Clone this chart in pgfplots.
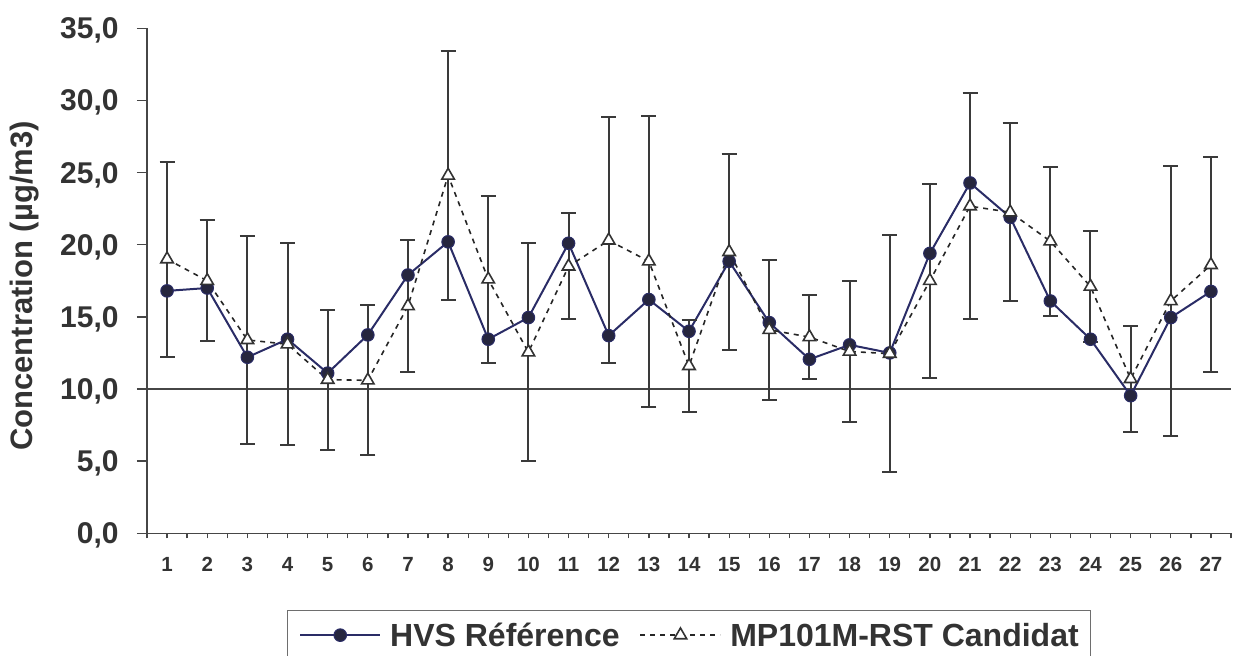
\documentclass[border=0pt]{standalone}
\usepackage{fontspec}
\setmainfont{Liberation Sans}
\usepackage{pgfplots}
\pgfplotsset{compat=1.18}
\usepackage{pgfplotstable}

\definecolor{refline}{RGB}{42,44,102}
\definecolor{refmark}{RGB}{38,38,62}
\definecolor{txt}{RGB}{51,51,51}
\definecolor{axisgray}{RGB}{70,70,70}
\definecolor{barcol}{RGB}{58,58,58}
\definecolor{boxgray}{RGB}{110,110,110}

% day, HVS reference, MP101M-RST candidate, half-width of the candidate interval
\pgfplotstableread{
day hvs  mp    err
1   16.8  19.0  6.75
2   17.0  17.5  4.2
3   12.2  13.4  7.2
4   13.45 13.1  7.0
5   11.1  10.65 4.85
6   13.75 10.6  5.2
7   17.9  15.75 4.55
8   20.2  24.8  8.6
9   13.45 17.6  5.8
10  14.95 12.55 7.56
11  20.1  18.5  3.68
12  13.7  20.3  8.53
13  16.2  18.85 10.1
14  14.0  11.6  3.18
15  18.85 19.5  6.8
16  14.6  14.1  4.86
17  12.06 13.6  2.9
18  13.06 12.6  4.86
19  12.5  12.45 8.2
20  19.4  17.5  6.73
21  24.28 22.67 7.85
22  21.9  22.25 6.17
23  16.1  20.24 5.15
24  13.45 17.1  3.85
25  9.54  10.7  3.7
26  14.95 16.1  9.37
27  16.76 18.6  7.45
}\conc

\begin{document}
\begin{tikzpicture}
\begin{axis}[
  scale only axis,
  width=542pt, height=252.5pt,
  xmin=0.5, xmax=27.5, ymin=0, ymax=35,
  axis lines*=left,
  axis line style={axisgray, line width=0.65pt},
  tick align=outside,
  major tick length=5pt,
  tick style={axisgray, line width=0.65pt},
  ytick={0,5,...,35},
  yticklabel style={
    /pgf/number format/.cd, fixed, fixed zerofill, precision=1, use comma, assume math mode=true,
    /tikz/.cd, anchor=east, inner sep=0pt, text depth=0pt, xshift=-9pt,
    font=\fontsize{15}{18}\selectfont\bfseries, text=txt},
  xtick={0.5,1.5,...,27.5},
  xticklabels={},
  xtick style={/pgfplots/major tick length=2.5pt},
  extra x ticks={1,2,...,27},
  extra x tick labels={1,2,3,4,5,6,7,8,9,10,11,12,13,14,15,16,17,18,19,20,21,22,23,24,25,26,27},
  extra x tick style={major tick length=0pt,
    xticklabel style={anchor=north, inner sep=0pt, text depth=0pt, yshift=-11.85pt,
      font=\fontsize{10.25}{12}\selectfont\bfseries, text=txt}},
  ylabel={Concentration (µg/m3)},
  ylabel style={at={(axis description cs:-0.1052,0.4897)}, anchor=base,
    font=\fontsize{15.5}{18}\selectfont\bfseries, text=txt},
  legend columns=2,
  legend style={at={(0.5,-0.1519)}, anchor=north, draw=boxgray, line width=0.65pt,
    font=\fontsize{16}{19}\selectfont\bfseries, text=txt,
    inner xsep=6pt, inner ysep=6.5pt,
    nodes={inner sep=0pt, text height=11.5pt, text depth=0pt},
    /tikz/every odd column/.append style={column sep=4.5pt},
    /tikz/every even column/.append style={column sep=10pt}},
  legend image code/.code={%
    \draw[mark repeat=2, mark phase=2, #1] plot coordinates {(0pt,0pt) (20pt,0pt) (40pt,0pt)};},
]
% 10 µg/m3 threshold
\addplot[forget plot, axisgray, line width=1pt] coordinates {(0.5,10) (27.5,10)};

\addplot[refline, line width=1pt, mark=*, mark size=3.15pt,
  mark options={fill=refmark, draw=refline, line width=0.5pt}]
  table[x=day, y=hvs] {\conc};
\addlegendentry{HVS Référence}

\addplot[black!85, line width=0.8pt, dash pattern=on 2.5pt off 2.5pt,
  mark=triangle*, mark size=3.6pt,
  mark options={solid, fill=white, draw=black!80, line width=0.8pt},
  error bars/.cd, y dir=both, y explicit,
  error bar style={barcol, line width=1pt, solid},
  error mark options={rotate=90, mark size=3.75pt, barcol, line width=1pt, solid}]
  table[x=day, y=mp, y error=err] {\conc};
\addlegendentry{MP101M-RST Candidat}
\end{axis}
\pgfresetboundingbox
\path[use as bounding box] (-73.5pt,-61.35pt) rectangle (544.5pt,266.65pt);
\end{tikzpicture}
\end{document}
